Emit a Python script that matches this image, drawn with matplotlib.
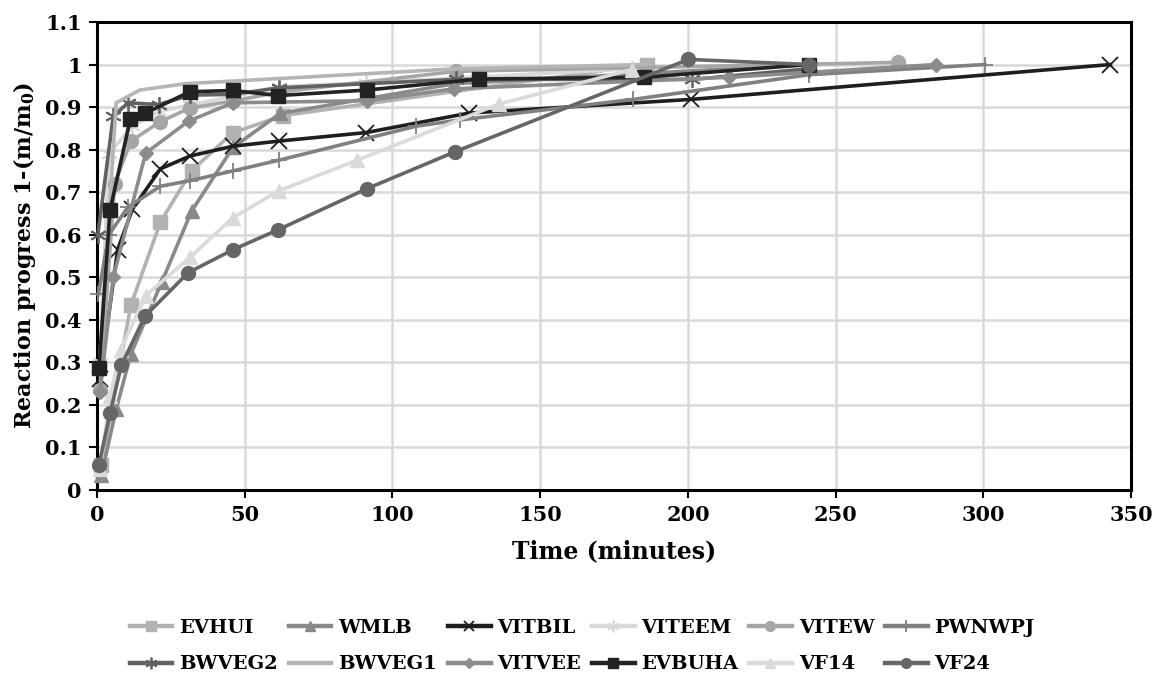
import matplotlib
matplotlib.use("Agg")
import matplotlib.pyplot as plt

plt.rcParams['font.family'] = ['DejaVu Serif']
plt.rcParams['font.weight'] = 'bold'

names = ["EVHUI", "WMLB", "VITBIL", "VITEEM", "VITEW", "PWNWPJ",
         "BWVEG2", "BWVEG1", "VITVEE", "EVBUHA", "VF14", "VF24"]

t_EVHUI = [1.5, 11.5, 21.5, 32, 46, 63, 186]
v_EVHUI = [0.06, 0.435, 0.63, 0.75, 0.84, 0.88, 1.0]

t_WMLB = [1.5, 6.5, 11.5, 22, 32, 46, 62, 121, 241]
v_WMLB = [0.035, 0.19, 0.32, 0.49, 0.655, 0.805, 0.885, 0.955, 1.0]

t_VITBIL = [1, 7, 12, 21.5, 31.5, 46, 61.5, 91, 126, 201, 343]
v_VITBIL = [0.26, 0.565, 0.66, 0.755, 0.785, 0.808, 0.82, 0.84, 0.886, 0.918, 1.0]

t_VITEEM = [1, 4, 12, 21, 31.5, 46, 61.5, 91, 181]
v_VITEEM = [0.3, 0.79, 0.855, 0.89, 0.905, 0.925, 0.948, 0.957, 0.99]

t_VITEW = [1, 6, 11.5, 21.5, 31.5, 46, 61.5, 121.5, 271]
v_VITEW = [0.235, 0.72, 0.82, 0.866, 0.898, 0.914, 0.935, 0.984, 1.005]

t_PWNWPJ = [0.5, 4, 10.5, 21.5, 31.5, 46, 61.5, 108, 123, 181.5, 241, 300.5]
v_PWNWPJ = [0.46, 0.6, 0.665, 0.714, 0.727, 0.75, 0.775, 0.855, 0.87, 0.918, 0.976, 1.0]

t_BWVEG2 = [0.3, 5.5, 10.5, 21, 31.5, 46, 61.5, 121.5, 201.5, 241]
v_BWVEG2 = [0.6, 0.878, 0.91, 0.906, 0.928, 0.93, 0.945, 0.965, 0.965, 0.99]

t_BWVEG1 = [1, 6.5, 14.5, 30, 121.5, 186]
v_BWVEG1 = [0.3, 0.91, 0.94, 0.955, 0.99, 1.0]

t_VITVEE = [1, 5.5, 16.5, 31, 46, 91.5, 121, 214, 284]
v_VITVEE = [0.23, 0.5, 0.792, 0.867, 0.91, 0.915, 0.943, 0.97, 1.0]

t_EVBUHA = [0.7, 4.4, 11.3, 16.2, 31.4, 46.1, 61.4, 91.3, 129.4, 185, 241]
v_EVBUHA = [0.286, 0.657, 0.872, 0.885, 0.936, 0.939, 0.927, 0.94, 0.966, 0.97, 1.0]

t_VF14 = [1, 4.5, 8, 16.5, 31.5, 46, 61.5, 88, 136, 181]
v_VF14 = [0.05, 0.22, 0.33, 0.457, 0.547, 0.64, 0.703, 0.775, 0.907, 0.988]

t_VF24 = [0.7, 4.4, 8.3, 16.2, 30.9, 46.1, 61.4, 91.3, 121.2, 200.2, 241]
v_VF24 = [0.059, 0.18, 0.294, 0.408, 0.511, 0.565, 0.612, 0.708, 0.795, 1.012, 1.0]

x_ticks = [0, 50, 100, 150, 200, 250, 300, 350]
y_ticks = [0, 0.1, 0.2, 0.3, 0.4, 0.5, 0.6, 0.7, 0.8, 0.9, 1.0, 1.1]
y_ticklabels = ["0", "0.1", "0.2", "0.3", "0.4", "0.5", "0.6", "0.7", "0.8", "0.9", "1", "1.1"]

data = {
    "EVHUI": (t_EVHUI, v_EVHUI), "WMLB": (t_WMLB, v_WMLB), "VITBIL": (t_VITBIL, v_VITBIL),
    "VITEEM": (t_VITEEM, v_VITEEM), "VITEW": (t_VITEW, v_VITEW), "PWNWPJ": (t_PWNWPJ, v_PWNWPJ),
    "BWVEG2": (t_BWVEG2, v_BWVEG2), "BWVEG1": (t_BWVEG1, v_BWVEG1), "VITVEE": (t_VITVEE, v_VITVEE),
    "EVBUHA": (t_EVBUHA, v_EVBUHA), "VF14": (t_VF14, v_VF14), "VF24": (t_VF24, v_VF24),
}

asterisk = (6, 2, 0)
styles = {
    "EVHUI":  dict(color="#b2b2b2", marker="s", ms=10),
    "WMLB":   dict(color="#898989", marker="^", ms=10),
    "VITBIL": dict(color="#1e1e1e", marker="x", ms=11, mew=1.3),
    "VITEEM": dict(color="#d9d9d9", marker=asterisk, ms=12, mew=1.3),
    "VITEW":  dict(color="#a6a6a6", marker="o", ms=10),
    "PWNWPJ": dict(color="#808080", marker="+", ms=12, mew=1.3),
    "BWVEG2": dict(color="#626262", marker=asterisk, ms=12, mew=1.3),
    "BWVEG1": dict(color="#b5b5b5", marker="None"),
    "VITVEE": dict(color="#8c8c8c", marker="D", ms=7),
    "EVBUHA": dict(color="#222222", marker="s", ms=10),
    "VF14":   dict(color="#dadada", marker="^", ms=10),
    "VF24":   dict(color="#666666", marker="o", ms=10),
}

fig = plt.figure(figsize=(11.53, 6.76), dpi=100)
ax = fig.add_axes([0.0841, 0.2751, 0.981 - 0.0841, 0.9675 - 0.2751])

for i, n in enumerate(names):
    t, v = data[n]
    st = styles[n]
    ax.plot(t, v, color=st["color"], lw=2.6, marker=st["marker"],
            ms=st.get("ms", 8), mew=st.get("mew", 1.0),
            mfc=st["color"], mec=st["color"], label=n, zorder=3 + i,
            clip_on=False)

ax.set_xlim(0, 350)
ax.set_ylim(0, 1.1)
ax.set_xticks(x_ticks)
ax.set_yticks(y_ticks)
ax.set_yticklabels(y_ticklabels)
ax.grid(True, color="#d9d9d9", lw=1.8, zorder=0)
ax.set_axisbelow(True)
for s in ax.spines.values():
    s.set_linewidth(2.2)
    s.set_color("black")
ax.tick_params(axis="both", direction="out", length=6, width=1.5, labelsize=15, pad=5)
for lab in ax.get_xticklabels() + ax.get_yticklabels():
    lab.set_fontweight("bold")

ax.set_xlabel("Time (minutes)", fontsize=17, fontweight="bold", labelpad=10)
ax.set_ylabel("Reaction progress 1-(m/m$_\\mathregular{0}$)", fontsize=16, fontweight="bold", labelpad=5)

# legend in row-major order (6 columns x 2 rows)
order = []
for c in range(6):
    order += [c, c + 6]
leg_h = []
for i in order:
    n = names[i]
    st = styles[n]
    h, = ax.plot([], [], color=st["color"], lw=3.2, marker=st["marker"],
                 ms=st.get("ms", 8) * 0.7, mew=st.get("mew", 1.0),
                 mfc=st["color"], mec=st["color"], label=n)
    leg_h.append(h)
fig.legend(handles=leg_h, labels=[names[i] for i in order], ncol=6,
           loc="center", bbox_to_anchor=(0.505, 0.044), frameon=False,
           handlelength=2.2, handletextpad=0.35,
           columnspacing=0.55, labelspacing=0.95,
           prop={"weight": "bold", "size": 14})

fig.savefig("out.png", dpi=100)
